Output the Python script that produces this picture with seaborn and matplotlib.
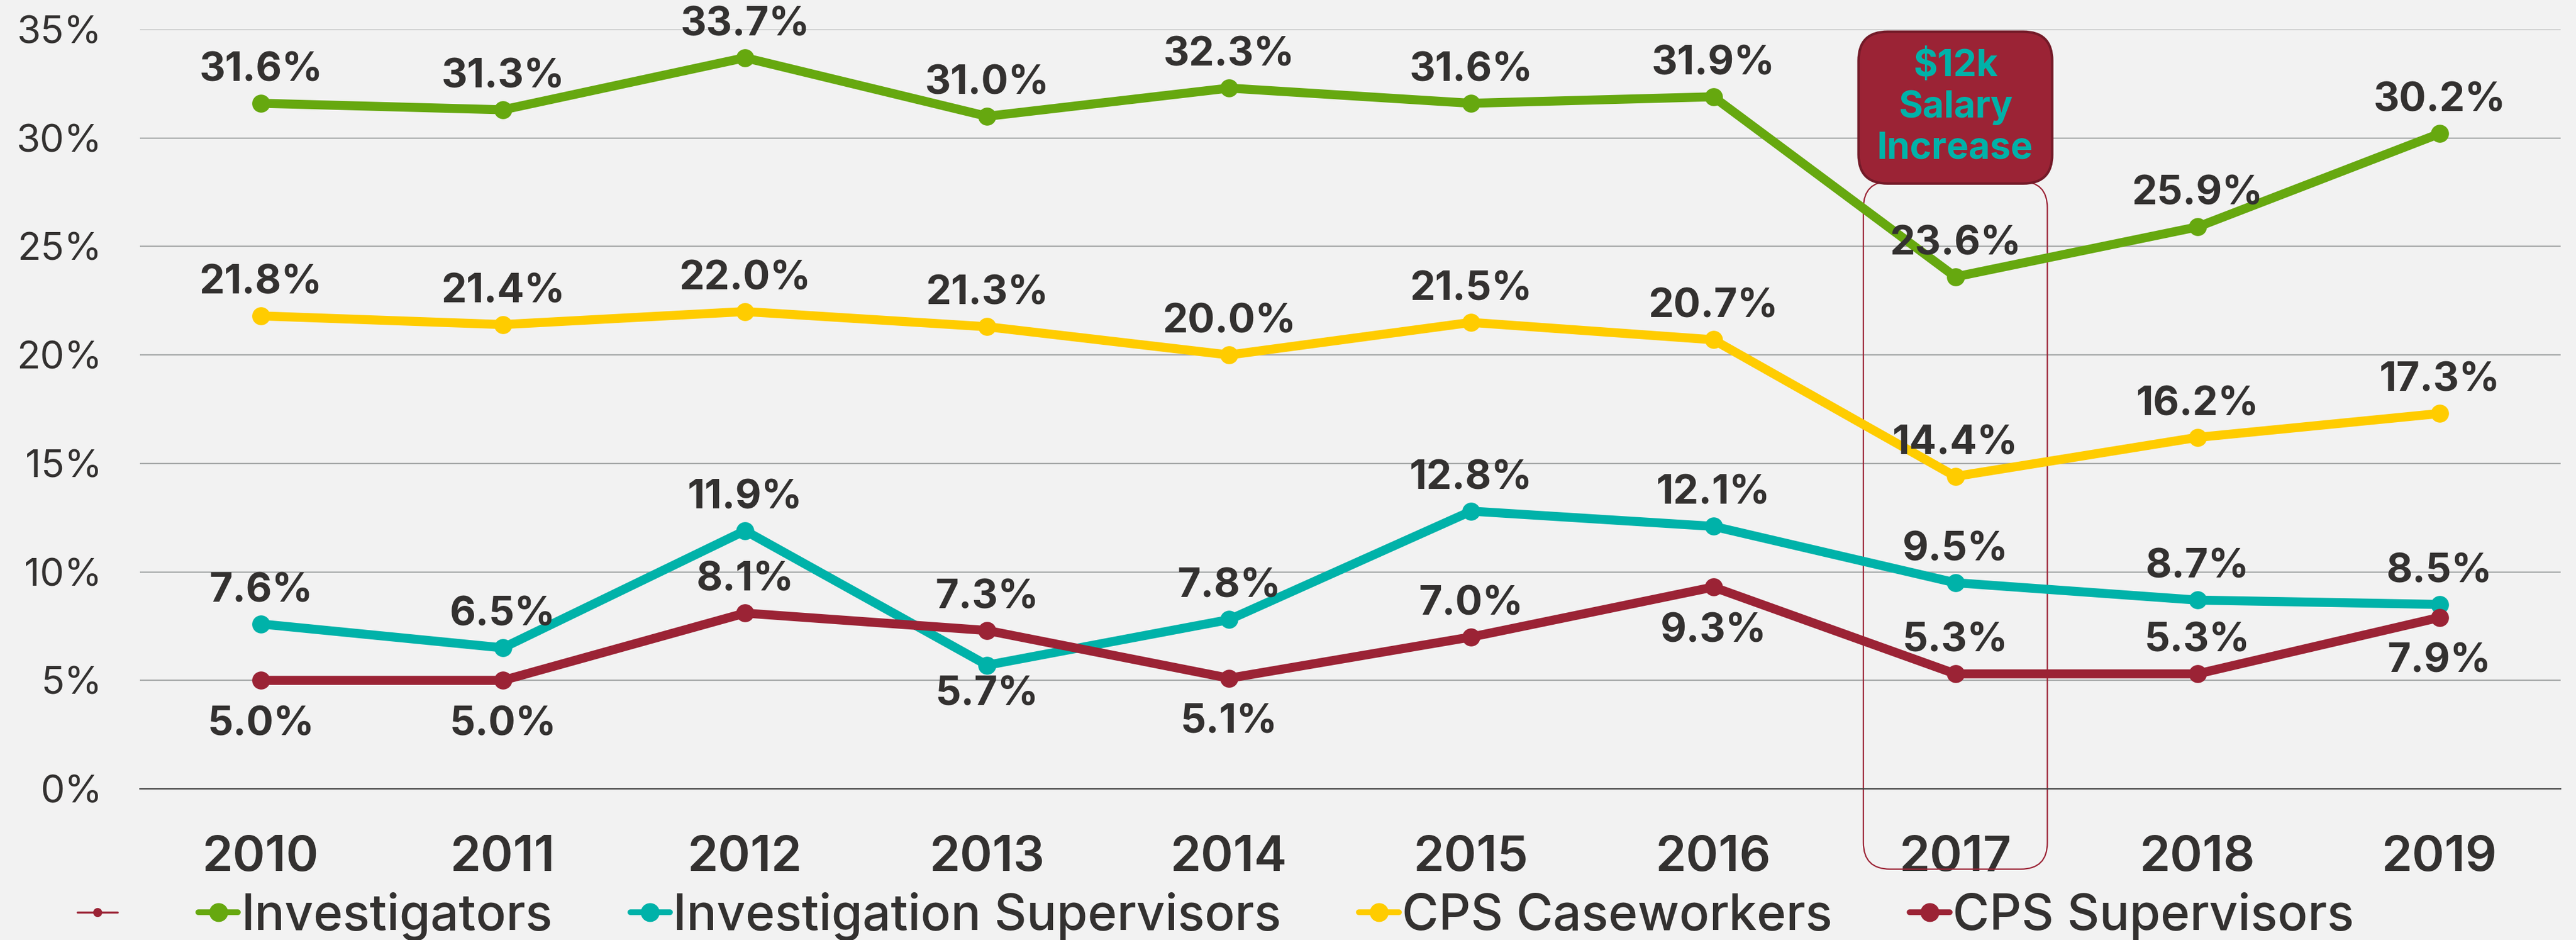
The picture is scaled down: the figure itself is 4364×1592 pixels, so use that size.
import numpy as np
import pandas as pd
import seaborn as sns
from matplotlib import pyplot as plt
from matplotlib.lines import Line2D
from matplotlib.patches import FancyBboxPatch
from matplotlib.ticker import FixedLocator

# data
years = ['2010', '2011', '2012', '2013', '2014', '2015', '2016', '2017', '2018', '2019']
investigators = [31.6, 31.3, 33.7, 31.0, 32.3, 31.6, 31.9, 23.6, 25.9, 30.2]
inv_supervisors = [7.6, 6.5, 11.9, 5.7, 7.8, 12.8, 12.1, 9.5, 8.7, 8.5]
cps_caseworkers = [21.8, 21.4, 22.0, 21.3, 20.0, 21.5, 20.7, 14.4, 16.2, 17.3]
cps_supervisors = [5.0, 5.0, 8.1, 7.3, 5.1, 7.0, 9.3, 5.3, 5.3, 7.9]
series_names = ['Investigators', 'Investigation Supervisors', 'CPS Caseworkers', 'CPS Supervisors']
y_ticks = [0, 5, 10, 15, 20, 25, 30, 35]
highlight_year = '2017'
highlight_text = '$12k\nSalary\nIncrease'

# style
colors = ['#66A80F', '#00B2A9', '#FFCC00', '#9B2335']
label_side = [
    ['up'] * 10,
    ['up', 'up', 'up', 'down', 'up', 'up', 'up', 'up', 'up', 'up'],
    ['up'] * 10,
    ['down', 'down', 'up', 'up', 'down', 'up', 'down', 'up', 'up', 'down'],
]
down_offset = [-40, -36, -40, -54]
bg = '#F2F2F2'
dark = '#333130'

sns.set_style('white', {'axes.facecolor': bg, 'figure.facecolor': bg})
plt.rcParams['font.family'] = ['Inter', 'DejaVu Sans']

df = pd.DataFrame({
    'year': years * 4,
    'rate': investigators + inv_supervisors + cps_caseworkers + cps_supervisors,
    'group': np.repeat(series_names, len(years)),
})

fig = plt.figure(figsize=(43.64, 15.92), dpi=100)
ax = fig.add_axes([0.0543, 0.1608, 0.9397, 0.8078])

sns.lineplot(data=df, x='year', y='rate', hue='group', hue_order=series_names,
             palette=colors, marker='o', markersize=22, markeredgewidth=0,
             linewidth=11, legend=False, ax=ax, zorder=3)

# value labels
all_vals = [investigators, inv_supervisors, cps_caseworkers, cps_supervisors]
for vals, sides, dn in zip(all_vals, label_side, down_offset):
    for yr, v, s in zip(years, vals, sides):
        dy = 40 if s == 'up' else dn
        ax.annotate(f'{v:.1f}%', xy=(yr, v), xytext=(0, dy), textcoords='offset points',
                    ha='center', va='center', fontsize=49, fontweight='bold',
                    color=dark, zorder=5)

ax.set_xlim(-0.5, len(years) - 0.5)
ax.set_ylim(0, 35)
ax.set_yticks(y_ticks)
ax.set_yticklabels([f'{t}%' for t in y_ticks], fontsize=47, color=dark)
ax.tick_params(axis='y', length=0, pad=46)
ax.tick_params(axis='x', which='major', length=0, pad=56, labelsize=60, labelcolor=dark)
ax.xaxis.set_minor_locator(FixedLocator(np.arange(-0.5, len(years), 1)))
ax.tick_params(axis='x', which='minor', length=19, width=1.5, color='#404040')
for lbl in ax.get_xticklabels():
    lbl.set_fontweight('semibold')
ax.set_xlabel('')
ax.set_ylabel('')

for t in y_ticks[1:]:
    ax.axhline(t, color='#A5A8A8', lw=1.6, zorder=1)
for side in ['left', 'right', 'top']:
    ax.spines[side].set_visible(False)
ax.spines['bottom'].set_color('#404040')
ax.spines['bottom'].set_linewidth(1.6)

# highlight around 2017
hx = years.index(highlight_year)
asp = (ax.bbox.width / len(years)) / (ax.bbox.height / 35)
outline = FancyBboxPatch((hx - 0.38, -3.7), 0.76, 31.7,
                         boxstyle='round,pad=0,rounding_size=0.11', mutation_aspect=asp,
                         fc='none', ec='#9B2335', lw=1.6, clip_on=False, zorder=2)
ax.add_patch(outline)
box = FancyBboxPatch((hx - 0.4, 27.9), 0.8, 7.0,
                     boxstyle='round,pad=0,rounding_size=0.12', mutation_aspect=asp,
                     fc='#9B2335', ec='#731A28', lw=3, clip_on=False, zorder=6)
ax.add_patch(box)
ax.text(hx, 31.4, highlight_text, ha='center', va='center', fontsize=45,
        fontweight='bold', color='#00B2A9', linespacing=1.22, zorder=7)

# legend
handles = [Line2D([], [], color='#9B2335', lw=2.5, marker='o', markersize=10)]
handles += [Line2D([], [], color=c, lw=7, marker='o', markersize=22) for c in colors]
labels = [''] + series_names
fig.legend(handles, labels, loc='center', bbox_to_anchor=(0.472, 0.025), ncol=5,
           frameon=False, prop={'size': 61, 'weight': 'medium'}, handlelength=0.8,
           handletextpad=0.06, columnspacing=1.55, labelcolor=dark)

plt.savefig('out.png', dpi=100, facecolor=bg)
plt.close()
